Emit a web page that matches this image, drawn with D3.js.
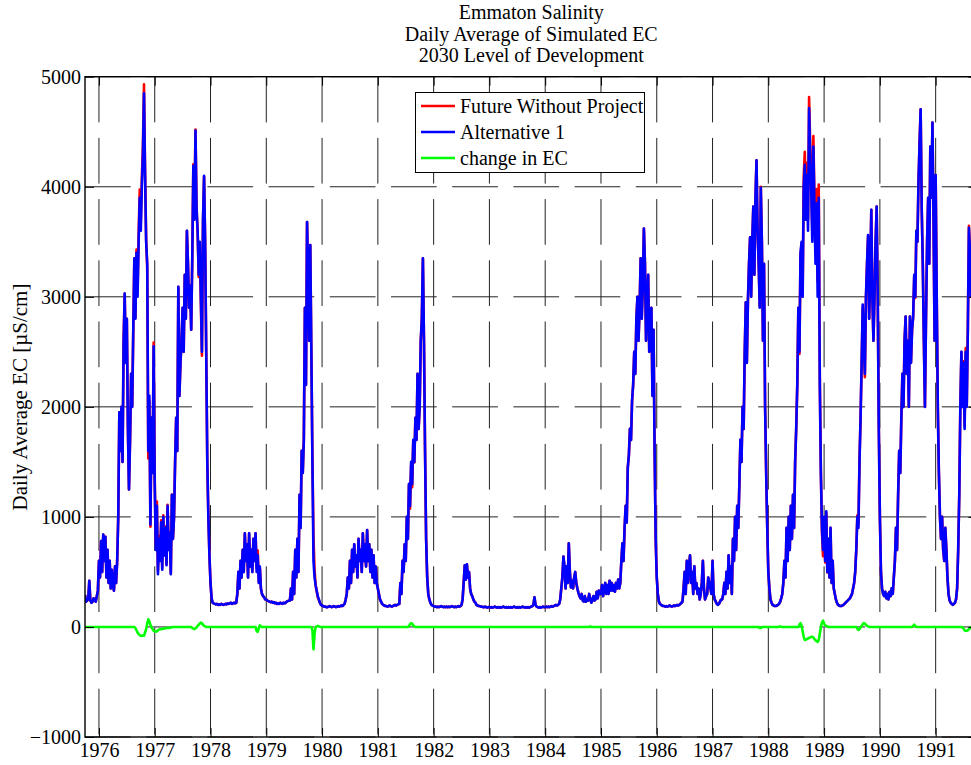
<!DOCTYPE html>
<html><head><meta charset="utf-8">
<script src="https://cdn.jsdelivr.net/npm/d3@7"></script>
<style>
body{margin:0;background:#fff}
svg{display:block}
text{font-family:"Liberation Serif","Times New Roman",serif;fill:#000}
</style>
</head><body>
<svg id="chart" width="971" height="765"></svg>
<script>
// ---------- DATA ----------
const titleLines = ["Emmaton Salinity", "Daily Average of Simulated EC", "2030 Level of Development"];
const yLabel = "Daily Average EC [\u00B5S/cm]";
const seriesNames = ["Future Without Project", "Alternative 1", "change in EC"];
const xTickYears = [1976,1977,1978,1979,1980,1981,1982,1983,1984,1985,1986,1987,1988,1989,1990,1991];
const yTickValues = [-1000,0,1000,2000,3000,4000,5000];

// weekly samples (1/52 year step); each row starts at the given decimal year
const rowStarts = [1975.75,1976,1977,1978,1979,1980,1981,1982,1983,1984,1985,1986,1987,1988,1989,1990,1991];

// Alternative 1, weekly EC (uS/cm)
const alt1Rows = [
[290,230,240,250,420,240,220,230,260,250,230,280,330],
[600,450,780,500,840,600,820,450,700,400,600,350,520,380,330,550,400,600,1000,1950,1600,2000,1500,2600,3030,2400,2800,1800,1250,1700,2300,2000,2700,3350,2800,3400,3000,3500,3900,3600,4000,4300,4850,4100,3500,3300,1600,2100,930,1900,1400,2550],
[1300,700,1100,480,800,600,950,520,1000,650,900,560,1100,700,850,480,1200,800,1000,1500,1900,1600,3090,2100,2400,2600,2900,2500,3200,2800,3600,3300,2900,3100,2700,3350,4190,3700,4510,3800,3600,3200,3500,3000,2500,3700,4100,3500,2500,1500,1000,650],
[400,260,220,215,210,205,210,200,205,200,210,205,200,205,210,205,215,210,215,220,210,215,220,215,220,300,500,350,600,450,700,500,850,600,750,450,850,550,700,500,800,600,850,500,650,400,550,350,300,280,270,250],
[250,240,235,230,225,230,220,225,215,220,210,215,210,220,215,210,220,215,220,230,235,240,240,350,250,500,300,700,450,800,500,1200,900,1600,1400,1700,2900,2200,3680,3200,2600,3470,2500,1500,600,450,380,330,280,250,220,200],
[195,190,185,185,180,180,185,190,185,180,185,190,185,180,185,190,185,190,195,190,200,210,250,300,450,350,600,400,700,500,750,550,650,450,800,600,700,500,850,600,750,550,880,600,750,500,700,450,650,400,550,400],
[350,300,250,230,210,200,195,190,190,185,190,195,190,185,190,195,200,195,200,205,210,400,300,600,500,750,600,1000,800,1300,1100,1500,1300,1700,1500,1900,1700,2300,1800,2000,2600,2800,3350,2600,1600,800,450,300,250,220,200,195],
[190,185,185,180,185,180,185,190,185,180,185,180,185,180,185,180,185,190,185,180,185,180,185,190,185,190,200,250,400,560,430,570,450,500,350,300,280,250,230,220,200,195,190,190,185,185,180,180,185,180,175,180],
[180,175,180,175,180,185,180,175,180,175,180,175,180,185,180,175,180,175,180,175,180,175,180,185,180,175,180,175,180,175,180,185,180,175,180,175,180,175,180,185,190,200,270,200,185,180,175,180,175,180,185,180],
[180,185,180,185,180,185,190,185,190,195,200,195,200,210,250,350,450,640,550,350,550,400,760,500,360,420,350,450,500,400,350,310,280,260,300,240,230,280,230,250,240,300,260,220,240,280,240,250,320,260,330,300],
[300,380,280,350,400,300,380,300,420,330,400,330,380,320,400,350,430,350,400,600,760,600,900,1100,950,1450,1560,1800,1700,2060,2200,2500,2300,2800,3000,2600,2900,3350,2800,3100,3620,3300,2600,2900,3200,2500,2800,2900,2100,2700,1600,800],
[450,300,230,210,200,195,190,190,185,190,185,190,195,190,185,190,195,190,195,200,195,200,210,220,230,350,500,300,600,400,550,650,400,500,300,550,350,400,300,350,250,300,400,600,350,250,280,300,450,400,350,300],
[600,300,250,230,210,200,210,230,250,250,300,400,300,500,350,650,400,550,300,800,600,1000,700,1100,900,1300,1700,1500,2000,1800,2500,2950,2400,2970,3300,3540,3000,3500,3820,3200,3900,4240,3600,3300,2900,3990,3500,2600,3300,2000,1400,900],
[500,350,250,220,200,195,190,190,195,200,210,230,260,300,400,600,450,900,600,1000,700,1100,800,1200,900,1500,1800,2200,2900,2500,3400,3500,3000,4000,4200,3700,4107,3600,4716,4300,3970,3500,4365,3800,3300,3850,3000,3900,2200,1400,900,700],
[1000,600,1050,500,800,450,900,400,600,350,300,250,220,200,195,190,190,195,200,210,220,230,240,250,260,280,300,350,400,500,700,1000,900,1500,1900,2400,2930,2600,2300,3000,3300,3560,2800,3200,3790,3000,2600,3000,3500,3820,3000,1800],
[1000,500,350,300,280,320,260,300,250,320,280,350,300,450,600,900,700,1200,1600,1400,1900,2300,2000,2600,2820,2300,2600,2000,2820,2400,2700,2820,3200,3000,3600,3500,4047,4400,4704,3800,3300,2600,2000,2800,3500,3900,3300,4365,3900,4583,3700,2600],
[4107,3000,2000,1400,1000,800,1000,700,600,900,700,450,300,240,220,210,200,210,220,250,350,700,1200,2000,2500,2000,2400,1800,2500,2000,2700,3626,3400,3000,3300,3500,3200,3400,3300]
];

// change in EC = Alternative 1 - Future Without Project, weekly (uS/cm)
const changeRows = [
[0,0,0,0,0,0,0,0,0,0,0,0,0],
[0,0,0,0,0,0,0,0,0,0,0,0,0,0,0,0,0,0,0,0,0,0,0,0,0,0,0,0,0,0,0,0,0,0,-10,-30,-50,-65,-75,-80,-82,-75,-80,-50,-20,30,70,50,20,-5,-20,-35],
[-40,-42,-40,-30,-25,-20,-20,-18,-15,-15,-12,-10,-10,-8,-8,-5,-3,0,0,0,0,0,0,0,0,0,0,0,0,0,0,0,0,0,0,-10,-15,-20,-10,-5,10,20,30,40,35,20,10,5,0,0,0,0],
[0,0,0,0,0,0,0,0,0,0,0,0,0,0,0,0,0,0,0,0,0,0,0,0,0,0,0,0,0,0,0,0,0,0,0,0,0,0,0,0,0,0,0,-35,-45,-10,15,5,0,0,0,0],
[0,0,0,0,0,0,0,0,0,0,0,0,0,0,0,0,0,0,0,0,0,0,0,0,0,0,0,0,0,0,0,0,0,0,0,0,0,0,0,0,0,0,0,-30,-203,-60,0,5,10,5,0,0],
[0,0,0,0,0,0,0,0,0,0,0,0,0,0,0,0,0,0,0,0,0,0,0,0,0,0,0,0,0,0,0,0,0,0,0,0,0,0,0,0,0,0,0,0,0,0,0,0,0,0,0,0],
[0,0,0,0,0,0,0,0,0,0,0,0,0,0,0,0,0,0,0,0,0,0,0,0,0,0,0,0,0,10,25,35,30,15,5,0,0,0,0,0,0,0,0,0,0,0,0,0,0,0,0,0],
[0,0,0,0,0,0,0,0,0,0,0,0,0,0,0,0,0,0,0,0,0,0,0,0,0,0,0,0,0,0,0,0,0,0,0,0,0,0,0,0,0,0,0,0,0,0,0,0,0,0,0,0],
[0,0,0,0,0,0,0,0,0,0,0,0,0,0,0,0,0,0,0,0,0,0,0,0,0,0,0,0,0,0,0,0,0,0,0,0,0,0,0,0,0,0,0,0,0,0,0,0,0,0,0,0],
[0,0,0,0,0,0,0,0,0,0,0,0,0,0,0,0,0,0,0,0,0,0,0,0,0,0,0,0,0,0,0,0,0,0,0,0,0,0,0,0,0,0,5,0,0,0,0,0,0,0,0,0],
[0,0,0,0,0,0,0,0,0,0,0,0,0,0,0,0,0,0,0,0,0,0,0,0,0,0,0,0,0,0,0,0,0,0,0,0,0,0,0,0,0,0,0,0,0,0,0,0,0,0,0,0],
[0,0,0,0,0,0,0,0,0,0,0,0,0,0,0,0,0,0,0,0,0,0,0,0,0,0,0,0,0,0,0,0,0,0,0,0,0,0,0,0,0,0,0,0,0,0,0,0,0,0,0,0],
[0,0,0,0,0,0,0,0,0,0,0,0,0,0,0,0,0,0,0,0,0,0,0,0,0,0,0,0,0,0,0,0,0,0,0,0,0,0,0,0,0,0,0,0,-10,-10,0,0,0,0,0,0],
[0,0,0,0,0,0,0,0,0,0,0,5,0,0,0,0,0,0,0,0,0,0,0,0,0,0,0,0,0,20,35,10,-40,-90,-118,-115,-110,-105,-100,-95,-90,-90,-95,-110,-120,-130,-136,-120,-60,0,40,57],
[30,15,10,5,0,0,0,0,0,0,0,0,0,0,0,0,0,0,0,0,0,0,0,0,0,0,0,0,0,0,0,-15,-27,-20,-5,10,25,35,30,20,10,5,0,0,0,0,0,0,0,0,0,0],
[0,0,0,0,0,0,0,0,0,0,0,0,0,0,0,0,0,0,0,0,0,0,0,0,0,0,0,0,0,0,0,10,20,10,0,0,0,0,0,0,0,0,0,0,0,0,0,0,0,0,0,0],
[0,0,0,0,0,0,0,0,0,0,0,0,0,0,0,0,0,0,0,0,0,0,0,0,0,-5,-15,-30,-35,-35,-30,-20,-10,0,0,0,0,0,0]
];

// ---------- BUILD ----------
function flatten(rows) {
  const out = [];
  rows.forEach((row, r) => row.forEach((v, w) => out.push({t: rowStarts[r] + w / 52, v: v})));
  return out;
}
const alt1 = flatten(alt1Rows);
const change = flatten(changeRows);
// Future Without Project = Alternative 1 - change
const fwp = alt1.map((d, i) => ({t: d.t, v: d.v - change[i].v}));

const FS = "20px";
const svg = d3.select("#chart");
const L = 85, R = 977.5, T = 76.7, B = 737;

const x = d3.scaleLinear().domain([1975.75, 1991.75]).range([L, R]);
const y = d3.scaleLinear().domain([-1000, 5000]).range([B, T]);

svg.append("defs").append("clipPath").attr("id", "clip")
  .append("rect").attr("x", L).attr("y", T).attr("width", R - L).attr("height", B - T);

// grid
const grid = svg.append("g");
grid.selectAll(".vg").data(xTickYears).enter().append("line")
  .attr("x1", d => x(d)).attr("x2", d => x(d)).attr("y1", T).attr("y2", B)
  .attr("stroke", "#222").attr("stroke-width", 1).attr("stroke-dasharray", "45.7,15.5");
grid.selectAll(".hg").data(yTickValues).enter().append("line")
  .attr("x1", L).attr("x2", R).attr("y1", d => y(d)).attr("y2", d => y(d))
  .attr("stroke", "#222").attr("stroke-width", 1).attr("stroke-dasharray", "45.7,15.5");

// lines
const line = d3.line().x(d => x(d.t)).y(d => y(d.v));
const plot = svg.append("g").attr("clip-path", "url(#clip)");
const colors = ["#ff0000", "#0000ff", "#00ff00"];
[fwp, alt1, change].forEach((s, i) => {
  plot.append("path").datum(s).attr("d", line)
    .attr("fill", "none").attr("stroke", colors[i]).attr("stroke-width", 2.6)
    .attr("stroke-linejoin", "round");
});

// axes box and ticks
svg.append("rect").attr("x", L).attr("y", T).attr("width", R - L).attr("height", B - T)
  .attr("fill", "none").attr("stroke", "#000").attr("stroke-width", 1.4);

const yAxisL = d3.axisLeft(y).tickValues(yTickValues).tickSize(-9).tickPadding(4).tickFormat(d3.format("d"));
const gy = svg.append("g").attr("transform", `translate(${L},0)`).call(yAxisL);
const yAxisR = d3.axisRight(y).tickValues(yTickValues).tickSize(-9).tickFormat("");
const gyr = svg.append("g").attr("transform", `translate(${R},0)`).call(yAxisR);
const xAxisB = d3.axisBottom(x).tickValues(xTickYears).tickSize(-9).tickPadding(6).tickFormat(d3.format("d"));
const gx = svg.append("g").attr("transform", `translate(0,${B})`).call(xAxisB);
const xAxisT = d3.axisTop(x).tickValues(xTickYears).tickSize(-9).tickFormat("");
const gxt = svg.append("g").attr("transform", `translate(0,${T})`).call(xAxisT);
[gy, gyr, gx, gxt].forEach(g => {
  g.select(".domain").remove();
  g.selectAll(".tick line").attr("stroke", "#000").attr("stroke-width", 1);
  g.selectAll("text").style("font-family", '"Liberation Serif", serif').style("font-size", FS).attr("fill", "#000");
});
gy.selectAll("text").attr("dy", "0.34em");
gx.selectAll("text").attr("dy", "0.71em");

// title
svg.append("g").selectAll("text").data(titleLines).enter().append("text")
  .attr("x", (L + R) / 2).attr("y", (d, i) => 19 + i * 21.6)
  .attr("text-anchor", "middle").style("font-size", FS).text(d => d);

// y label
svg.append("text").attr("transform", "translate(27,397) rotate(-90)")
  .attr("text-anchor", "middle").style("font-size", "21px").text(yLabel);

// legend
const lg = svg.append("g");
lg.append("rect").attr("x", 415.5).attr("y", 92.5).attr("width", 229).attr("height", 80)
  .attr("fill", "#fff").attr("stroke", "#000").attr("stroke-width", 1);
seriesNames.forEach((n, i) => {
  const yy = 106 + i * 26;
  lg.append("line").attr("x1", 421).attr("x2", 455).attr("y1", yy).attr("y2", yy)
    .attr("stroke", colors[i]).attr("stroke-width", 2.6);
  lg.append("text").attr("x", 460).attr("y", yy + 6.5).style("font-size", FS).text(n);
});
</script>
</body></html>
